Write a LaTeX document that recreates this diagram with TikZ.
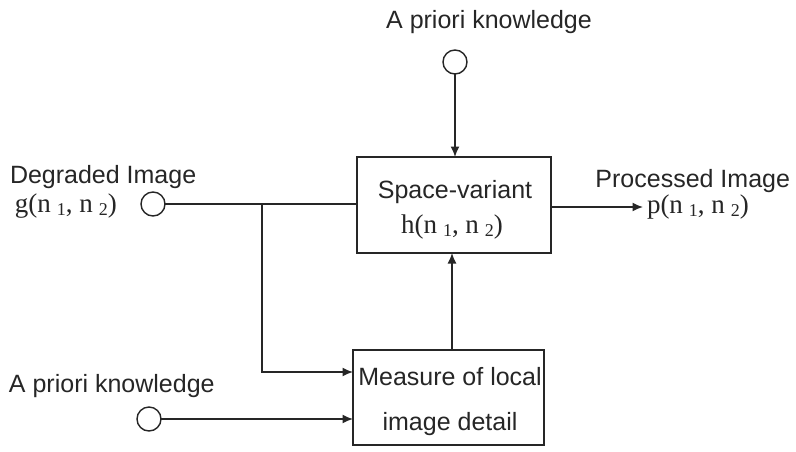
\documentclass[tikz,border=0pt]{standalone}
\usepackage{fontspec}
\setmainfont{Liberation Serif}
\setsansfont{Liberation Sans}
\usetikzlibrary{arrows.meta}
\definecolor{ink}{RGB}{38,38,38}
% lowered index digit, set apart from its letter
\newcommand{\lowsub}[1]{\hspace{0.22em}\raisebox{-0.32ex}{\fontsize{18pt}{18pt}\selectfont #1}}
\begin{document}
\begin{tikzpicture}[x=1pt,y=-1pt,
  every node/.style={inner sep=0pt, outer sep=0pt},
  lbl/.style={font=\sffamily\fontsize{25pt}{28pt}\selectfont, text=ink, anchor=base west},
  mth/.style={font=\rmfamily\fontsize{27pt}{30pt}\selectfont, text=ink, anchor=base west},
  port/.style={circle, draw=ink, line width=1.4pt, minimum size=24pt},
  blk/.style={draw=ink, line width=1.4pt, rectangle},
  wire/.style={draw=ink, line width=1.4pt},
  arr/.style={wire, -{Latex[length=10.5pt,width=9pt]}}]
\fill[white] (0,0) rectangle (796,451);
\useasboundingbox (0,0) rectangle (796,451);

% blocks
\node[blk, minimum width=194pt, minimum height=96pt] (sv) at (454,205) {};
\node[blk, minimum width=191pt, minimum height=95pt] (md) at (448.5,397.5) {};

% text inside the blocks
\node[lbl, anchor=base] (svt1) at (455,198) {Space-variant};
\node[mth, anchor=base] (svt2) at (452,233) {h(n\lowsub{1}, n\lowsub{2})};
\node[lbl, anchor=base] (mdt1) at (450,385) {Measure of local};
\node[lbl, anchor=base] (mdt2) at (450,430) {image detail};

% ports
\node[port] (ptop) at (455,62) {};
\node[port] (pin) at (153,204) {};
\node[port] (pbot) at (149,419) {};

% labels
\node[lbl, anchor=base] (ltop) at (489,28) {A priori knowledge};
\node[lbl] (lin1) at (10,183) {Degraded Image};
\node[mth] (lin2) at (15,212) {g(n\lowsub{1}, n\lowsub{2})};
\node[lbl] (lbot) at (9,392) {A priori knowledge};
\node[lbl, anchor=base east] (lout1) at (790,187) {Processed Image};
\node[mth] (lout2) at (647,213) {p(n\lowsub{1}, n\lowsub{2})};

% connectors
\coordinate (jn) at (262,204);
\coordinate (out) at (643,207);
\draw[wire] (pin) -- (sv.west |- pin);
\draw[arr] (jn) |- ([yshift=-22pt]md.north west);
\draw[arr] (pbot) -- (md.west |- pbot);
\draw[arr] (ptop) -- (ptop |- sv.north);
\draw[arr] ([xshift=3.5pt]md.north) -- ([xshift=3.5pt]md.north |- sv.south);
\draw[arr] (sv.east |- out) -- (out);
\end{tikzpicture}
\end{document}
